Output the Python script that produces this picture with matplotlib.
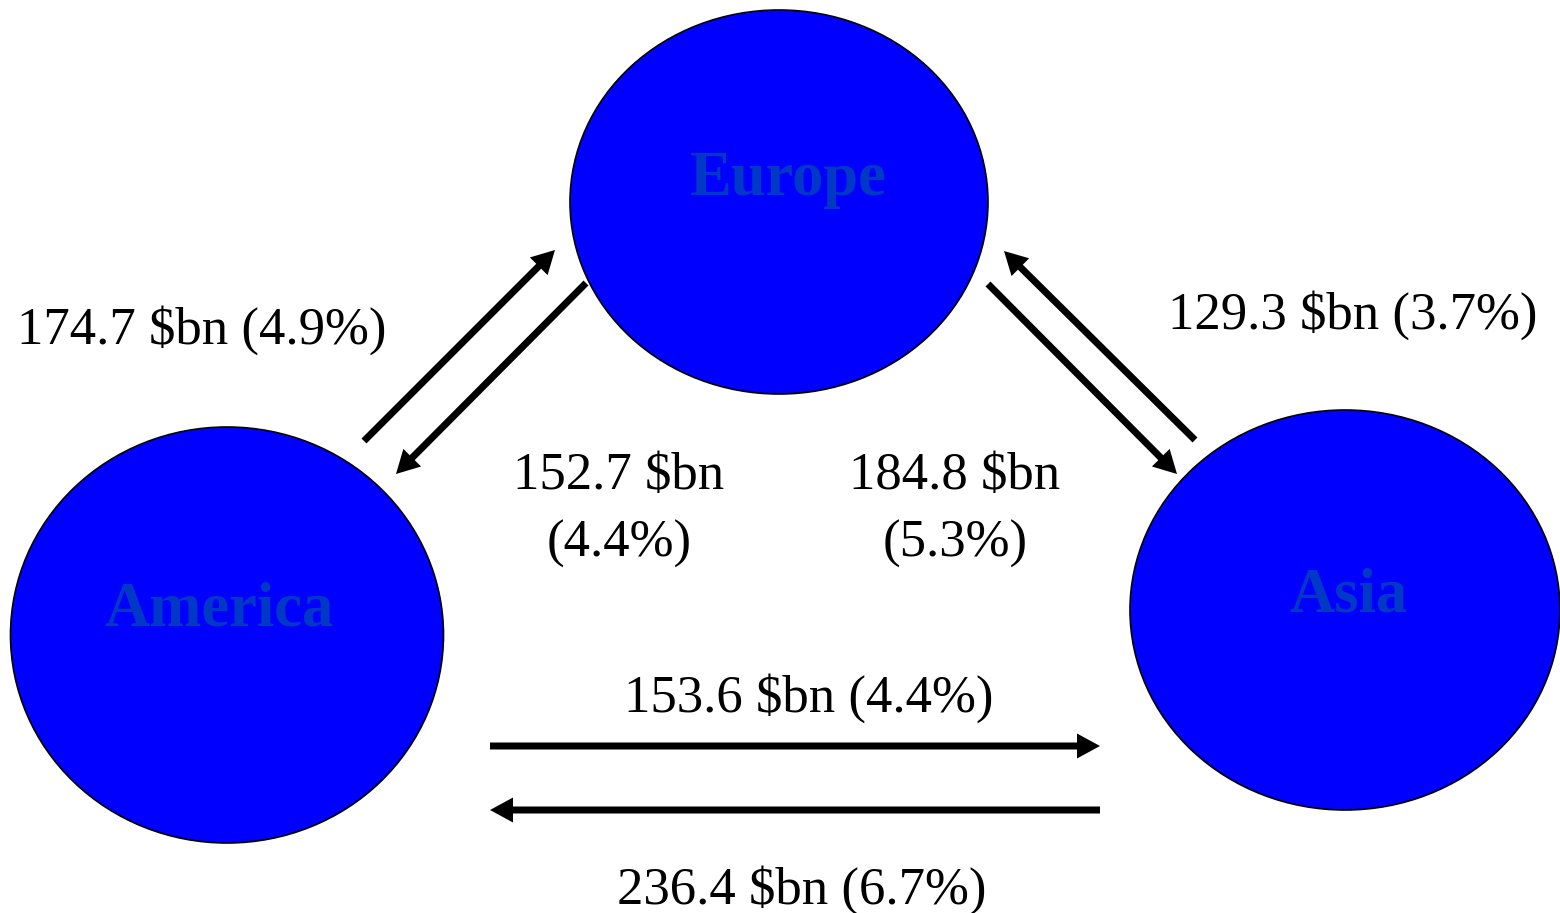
import matplotlib
matplotlib.use("Agg")
import matplotlib.pyplot as plt
from matplotlib.patches import Ellipse

# regions (nodes)
regions = ["Europe", "America", "Asia"]
node_xy = [(779, 202), (227, 635), (1345, 610)]
node_wh = [(418, 384), (433, 416), (430, 400)]
label_xy = [(788, 180), (219, 611), (1348, 596)]

# trade flows: value in $bn and share in %
flow_from = ["America", "Europe", "Europe", "Asia", "America", "Asia"]
flow_to = ["Europe", "America", "Asia", "Europe", "Asia", "America"]
flow_val = [174.7, 152.7, 184.8, 129.3, 153.6, 236.4]
flow_pct = [4.9, 4.4, 5.3, 3.7, 4.4, 6.7]

# arrow start / end and text placement (layout, pixels)
arrow_start = [(364, 441), (586, 283), (988, 284), (1195, 440), (490, 746), (1100, 810)]
arrow_end = [(555, 250), (396, 474), (1177, 474), (1004, 251), (1100, 746), (490, 810)]
text_xy = [(202, 330), (619, 510), (955, 510), (1353, 315), (809, 698), (802, 890)]
text_wrap = [False, True, True, False, False, False]

plt.rcParams['font.family'] = ['Liberation Serif', 'DejaVu Serif']

fig = plt.figure(figsize=(15.6, 9.13), dpi=100)
ax = fig.add_axes([0, 0, 1, 1])
ax.set_xlim(0, 1560)
ax.set_ylim(913, 0)
ax.axis('off')

for name, (x, y), (w, h), (lx, ly) in zip(regions, node_xy, node_wh, label_xy):
    ax.add_patch(Ellipse((x, y), w, h, facecolor='#0000FF', edgecolor='black', lw=1.2))
    ax.text(lx, ly, name, color='#0039C6', fontsize=45, fontweight='bold',
            ha='center', va='center')

for i in range(len(flow_val)):
    (x0, y0), (x1, y1) = arrow_start[i], arrow_end[i]
    ax.arrow(x0, y0, x1 - x0, y1 - y0, width=7, head_width=25, head_length=23,
             length_includes_head=True, color='black', lw=0)
    sep = "\n" if text_wrap[i] else " "
    s = "%.1f $bn%s(%.1f%%)" % (flow_val[i], sep, flow_pct[i])
    ax.text(text_xy[i][0], text_xy[i][1], s, fontsize=38, ha='center', va='center',
            linespacing=1.52)

fig.savefig("out.png", dpi=100)
